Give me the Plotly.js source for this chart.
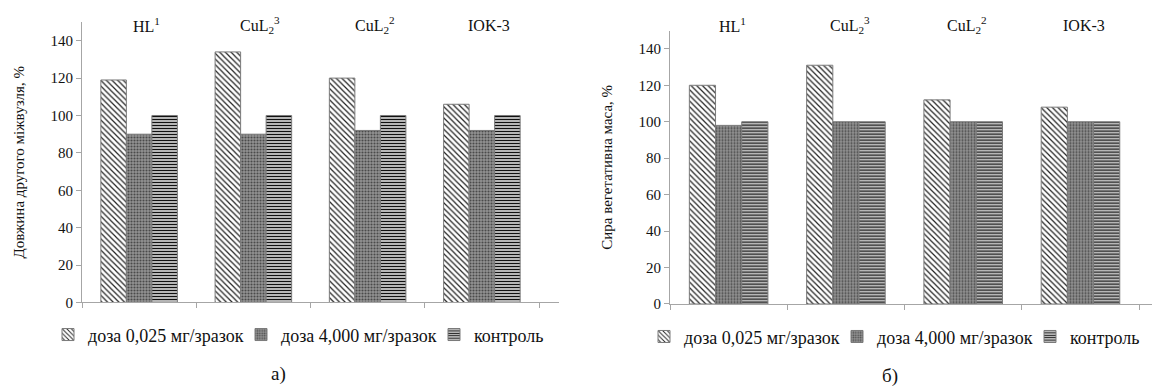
<!DOCTYPE html>
<html>
<head>
<meta charset="utf-8">
<script src="https://cdn.plot.ly/plotly-3.0.1.min.js"></script>
<style>html,body{margin:0;padding:0;background:#fff;}#chart{width:1152px;height:388px;}</style>
</head>
<body>
<div id="chart"></div>
<script>
// Categories (shown as labels above the groups)
const categories = ["HL<sup>1</sup>", "CuL<sub>2</sub><sup>3</sup>", "CuL<sub>2</sub><sup>2</sup>", "IOK-3"];
const seriesNames = ["доза 0,025 мг/зразок", "доза 4,000 мг/зразок", "контроль"];

// a) Довжина другого міжвузля, %
const lengthLowDose = [119, 134, 120, 106];
const lengthHighDose = [90, 90, 92, 92];
const lengthControl = [100, 100, 100, 100];

// б) Сира вегетативна маса, %
const massLowDose = [120, 131, 112, 108];
const massHighDose = [98, 100, 100, 100];
const massControl = [100, 100, 100, 100];

const yTicks = [0, 20, 40, 60, 80, 100, 120, 140];
const titleA = "Довжина другого міжвузля, %";
const titleB = "Сира вегетативна маса, %";
const captions = ["а)", "б)"];

const FONT = "'Liberation Serif', 'Times New Roman', serif";
const patterns = [
  {shape: "\\", fgcolor: "#222", bgcolor: "#ffffff", size: 4, solidity: 0.3},
  {shape: ".", fgcolor: "#4a4a4a", bgcolor: "#939393", size: 3, solidity: 0.4},
  {shape: "-", fgcolor: "#111", bgcolor: "#c8c8c8", size: 3, solidity: 0.4}
];

function mk(vals, i, xa, ya, leg) {
  return {
    type: "bar", x: categories, y: vals, name: seriesNames[i],
    xaxis: xa, yaxis: ya, legend: leg,
    marker: {color: patterns[i].bgcolor, pattern: patterns[i], line: {color: "#7a7a7a", width: 1}}
  };
}

const data = [
  mk(lengthLowDose, 0, "x", "y", "legend"),
  mk(lengthHighDose, 1, "x", "y", "legend"),
  mk(lengthControl, 2, "x", "y", "legend"),
  mk(massLowDose, 0, "x2", "y2", "legend2"),
  mk(massHighDose, 1, "x2", "y2", "legend2"),
  mk(massControl, 2, "x2", "y2", "legend2")
];

const xBase = {
  type: "category", showticklabels: false, showgrid: false, zeroline: false,
  showline: true, linecolor: "#a6a6a6", linewidth: 1,
  ticks: "outside", tickson: "boundaries", ticklen: 5, tickcolor: "#a6a6a6", fixedrange: true
};
const yBase = {
  range: [0, 150], tickvals: yTicks, showgrid: false, zeroline: false,
  showline: true, linecolor: "#a6a6a6", linewidth: 1,
  ticks: "outside", ticklen: 5, tickcolor: "#a6a6a6",
  tickfont: {family: FONT, size: 15, color: "#111"}, fixedrange: true
};

const annotations = [];
categories.forEach((c, i) => {
  annotations.push({x: c, xref: "x", y: 0.935, yref: "paper", yanchor: "middle", xanchor: "center", xshift: 7,
    text: c, showarrow: false, font: {family: FONT, size: 16, color: "#111"}});
  annotations.push({x: c, xref: "x2", y: 0.935, yref: "paper", yanchor: "middle", xanchor: "center", xshift: 4,
    text: c, showarrow: false, font: {family: FONT, size: 16, color: "#111"}});
});
annotations.push({x: 278/1152, xref: "paper", xanchor: "center", y: 0.035, yref: "paper", yanchor: "middle",
  text: captions[0], showarrow: false, font: {family: FONT, size: 19, color: "#111"}});
annotations.push({x: 890/1152, xref: "paper", xanchor: "center", y: 0.03, yref: "paper", yanchor: "middle",
  text: captions[1], showarrow: false, font: {family: FONT, size: 19, color: "#111"}});

const legBase = {orientation: "h", xanchor: "left", yanchor: "middle",
  font: {family: FONT, size: 18, color: "#111"}, itemwidth: 30, traceorder: "normal",
  entrywidth: 148, entrywidthmode: "pixels",
  bgcolor: "rgba(0,0,0,0)", borderwidth: 0, tracegroupgap: 0};

const layout = {
  width: 1152, height: 388,
  margin: {l: 0, r: 0, t: 0, b: 0, autoexpand: false},
  paper_bgcolor: "#fff", plot_bgcolor: "#fff",
  barmode: "group", bargap: 0.33, bargroupgap: 0,
  font: {family: FONT, color: "#111"},
  xaxis: Object.assign({}, xBase, {domain: [82/1152, 559/1152], range: [-0.5, 3.675], anchor: "y"}),
  yaxis: Object.assign({}, yBase, {domain: [0.2204, 0.9433], anchor: "x",
    title: {text: titleA, font: {family: FONT, size: 15, color: "#111"}, standoff: 22}}),
  xaxis2: Object.assign({}, xBase, {domain: [670/1152, 1], range: [-0.5, 3.61], anchor: "y2"}),
  yaxis2: Object.assign({}, yBase, {domain: [0.2165, 0.9211], anchor: "x2",
    title: {text: titleB, font: {family: FONT, size: 15, color: "#111"}, standoff: 22}}),
  legend: Object.assign({}, legBase, {x: 48/1152, y: 0.137}),
  legend2: Object.assign({}, legBase, {x: 644/1152, y: 0.132}),
  annotations: annotations,
  showlegend: true
};

Plotly.newPlot("chart", data, layout, {displayModeBar: false, staticPlot: true});
</script>
</body>
</html>
